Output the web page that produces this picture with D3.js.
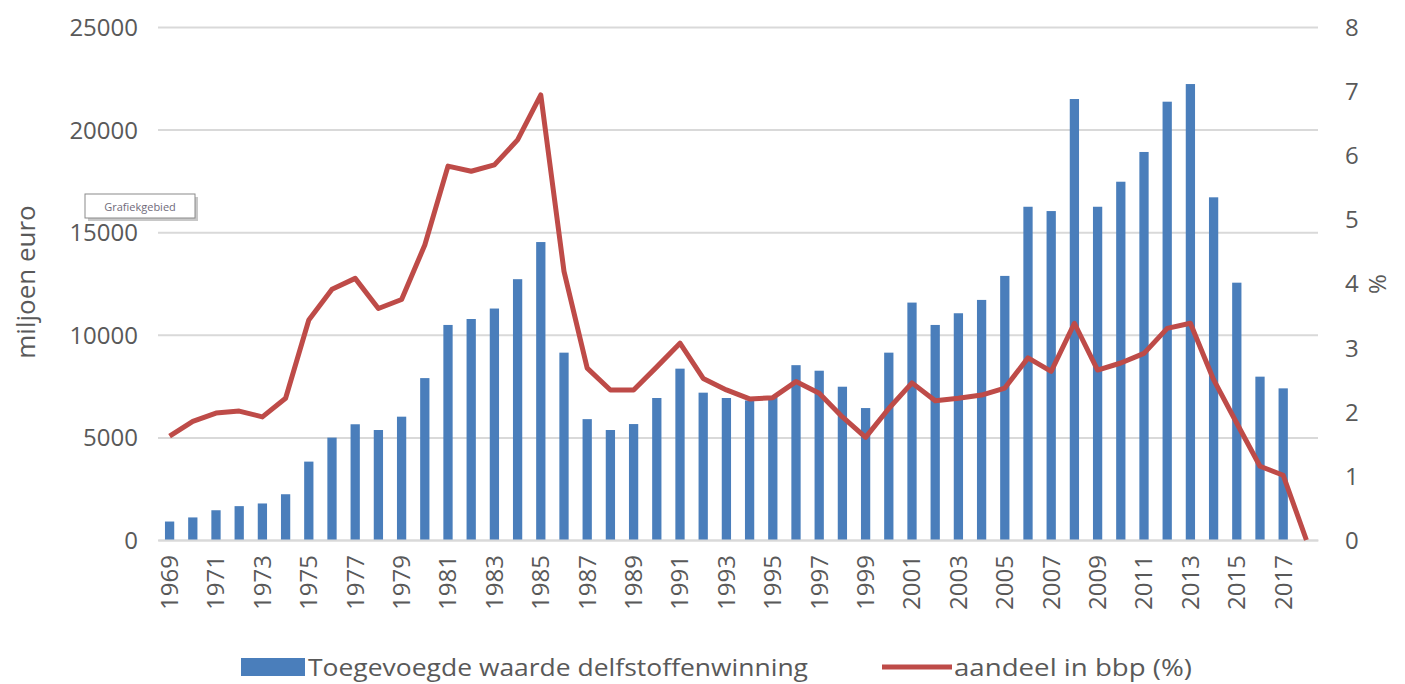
<!DOCTYPE html>
<html>
<head>
<meta charset="utf-8">
<script src="https://cdn.jsdelivr.net/npm/d3@7"></script>
<style>
  html, body { margin: 0; padding: 0; background: #ffffff; }
  svg { display: block; font-family: "Open Sans", "Noto Sans", sans-serif; }
</style>
</head>
<body>
<svg id="chart" width="1405" height="684"></svg>
<script>
const years = d3.range(1969, 2019).map(String);
const waarde = [900, 1100, 1450, 1650, 1780, 2230, 3820, 4990, 5640, 5360, 6010, 7890, 10480, 10770, 11280, 12710, 14520,
  9130, 5890, 5360, 5650, 6920, 8350, 7180, 6920, 6800, 7000, 8520, 8250, 7470, 6430, 9130, 11570, 10480, 11050, 11700,
  12870, 16240, 16030, 21490, 16240, 17460, 18910, 21360, 22220, 16700, 12540, 7960, 7390, null];
const aandeel = [1.62, 1.85, 1.98, 2.01, 1.92, 2.21, 3.43, 3.91, 4.08, 3.61, 3.75, 4.60, 5.83, 5.75, 5.85, 6.24, 6.94,
  4.19, 2.68, 2.34, 2.34, 2.70, 3.07, 2.52, 2.34, 2.20, 2.22, 2.47, 2.29, 1.92, 1.60, 2.05, 2.45, 2.17, 2.21, 2.26,
  2.37, 2.84, 2.63, 3.38, 2.65, 2.76, 2.91, 3.30, 3.38, 2.50, 1.82, 1.15, 1.01, 0];
const leftTicks = [0, 5000, 10000, 15000, 20000, 25000];
const rightTicks = [0, 1, 2, 3, 4, 5, 6, 7, 8];
const xTickLabels = years.filter((d, i) => i % 2 === 0);
const seriesNames = ["Toegevoegde waarde delfstoffenwinning", "aandeel in bbp (%)"];
const leftTitle = "miljoen euro";
const rightTitle = "%";

const svg = d3.select("#chart");
const pLeft = 158, pRight = 1318, pTop = 27, pBottom = 540;
const textColor = "#595959";
const barColor = "#4a7ebb";
const lineColor = "#be4b48";
const font = '"Open Sans", "Noto Sans", sans-serif';

const x = d3.scaleBand().domain(years).range([pLeft, pRight]).paddingInner(0.6).paddingOuter(0.3);
const yL = d3.scaleLinear().domain([0, 25000]).range([pBottom, pTop]);
const yR = d3.scaleLinear().domain([0, 8]).range([pBottom, pTop]);

// gridlines
const grid = svg.append("g")
  .attr("transform", `translate(${pLeft},0)`)
  .call(d3.axisLeft(yL).tickValues(leftTicks).tickSize(-(pRight - pLeft)).tickFormat(""));
grid.select(".domain").remove();
grid.selectAll("line").attr("stroke", "#d9d9d9").attr("stroke-width", 2);

// left axis labels
const gl = svg.append("g")
  .attr("transform", `translate(${pLeft - 20},0)`)
  .call(d3.axisLeft(yL).tickValues(leftTicks).tickFormat(d3.format("d")).tickSize(0).tickPadding(0));
gl.attr("font-family", font).attr("font-size", 24);
gl.select(".domain").remove();
gl.selectAll("text").attr("fill", textColor).attr("dy", "0.35em");

// right axis labels
const gr = svg.append("g")
  .attr("transform", `translate(${pRight + 27},0)`)
  .call(d3.axisRight(yR).tickValues(rightTicks).tickFormat(d3.format("d")).tickSize(0).tickPadding(0));
gr.attr("font-family", font).attr("font-size", 24);
gr.select(".domain").remove();
gr.selectAll("text").attr("fill", textColor).attr("dy", "0.35em");

// bars
svg.append("g").selectAll("rect")
  .data(years.map((yr, i) => ({ yr, v: waarde[i] })).filter(d => d.v != null))
  .join("rect")
  .attr("x", d => x(d.yr))
  .attr("width", x.bandwidth())
  .attr("y", d => yL(d.v))
  .attr("height", d => yL(0) - yL(d.v))
  .attr("fill", barColor);

// x axis
const gx = svg.append("g")
  .attr("transform", `translate(0,${pBottom})`)
  .call(d3.axisBottom(x).tickValues(xTickLabels).tickSize(0).tickPadding(0));
gx.attr("font-family", font).attr("font-size", 24);
gx.select(".domain").attr("stroke", "#d9d9d9").attr("stroke-width", 2);
gx.selectAll("text")
  .attr("fill", textColor)
  .attr("transform", "rotate(-90)")
  .attr("text-anchor", "end")
  .attr("x", -15)
  .attr("y", 0)
  .attr("dy", "0.35em");

// line
const line = d3.line()
  .x((d, i) => x(years[i]) + x.bandwidth() / 2)
  .y(d => yR(d));
svg.append("path")
  .datum(aandeel)
  .attr("d", line)
  .attr("fill", "none")
  .attr("stroke", lineColor)
  .attr("stroke-width", 5)
  .attr("stroke-linejoin", "round");

// axis titles
svg.append("text")
  .attr("transform", `translate(35,282) rotate(-90)`)
  .attr("text-anchor", "middle")
  .attr("fill", textColor)
  .style("font-size", "26px")
  .text(leftTitle);
svg.append("text")
  .attr("transform", `translate(1386,284) rotate(-90)`)
  .attr("text-anchor", "middle")
  .attr("fill", textColor)
  .style("font-size", "24px")
  .text(rightTitle);

// legend
const lg = svg.append("g");
lg.append("rect").attr("x", 241).attr("y", 658).attr("width", 64).attr("height", 18).attr("fill", barColor);
lg.append("text").attr("x", 308).attr("y", 676).attr("fill", textColor)
  .style("font-size", "24px").attr("textLength", 500).attr("lengthAdjust", "spacingAndGlyphs").text(seriesNames[0]);
lg.append("line").attr("x1", 882).attr("x2", 952).attr("y1", 667).attr("y2", 667)
  .attr("stroke", lineColor).attr("stroke-width", 5);
lg.append("text").attr("x", 954).attr("y", 676).attr("fill", textColor)
  .style("font-size", "24px").attr("textLength", 238).attr("lengthAdjust", "spacingAndGlyphs").text(seriesNames[1]);

// "Grafiekgebied" tooltip
const tip = svg.append("g");
tip.append("rect").attr("x", 88).attr("y", 197).attr("width", 110).attr("height", 24).attr("fill", "#c8c8c8");
tip.append("rect").attr("x", 85).attr("y", 194).attr("width", 110).attr("height", 24)
  .attr("fill", "#ffffff").attr("stroke", "#8a8a8a").attr("stroke-width", 1);
tip.append("text").attr("x", 140).attr("y", 211).attr("text-anchor", "middle")
  .attr("fill", "#6f6a7a").style("font-size", "11px").text("Grafiekgebied");
</script>
</body>
</html>
